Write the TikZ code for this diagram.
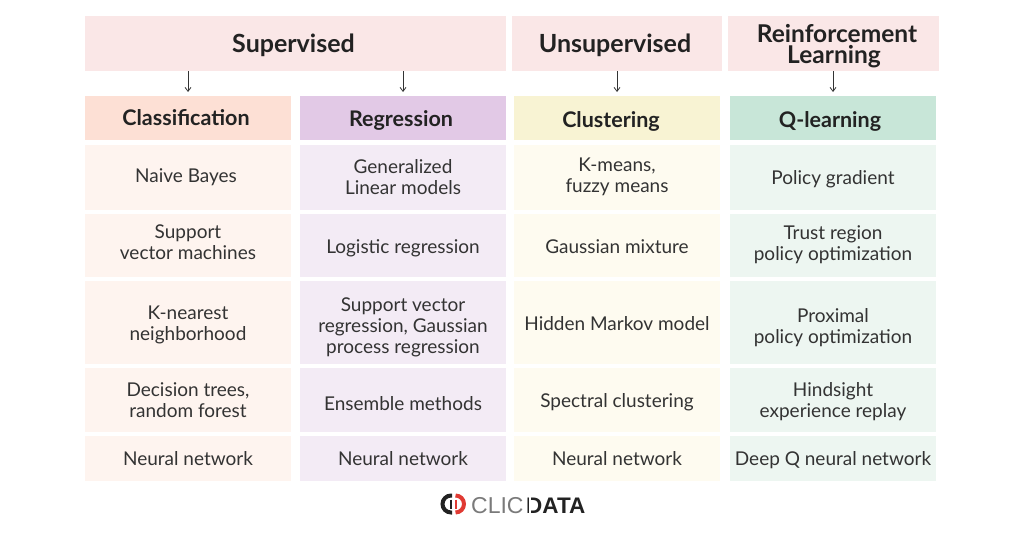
\documentclass[tikz,border=0pt]{standalone}
\usepackage{fontspec}
\setmainfont{Lato}
\newfontfamily\logolight{Liberation Sans}
\usetikzlibrary{arrows.meta}
\definecolor{topc}{HTML}{FAE7E7}
\definecolor{hA}{HTML}{FDE0D5}\definecolor{hB}{HTML}{E2C9E6}\definecolor{hC}{HTML}{F8F3D3}\definecolor{hD}{HTML}{C8E6D8}
\definecolor{cA}{HTML}{FEF4EF}\definecolor{cB}{HTML}{F3EBF5}\definecolor{cC}{HTML}{FEFBF0}\definecolor{cD}{HTML}{EDF6F1}
\definecolor{ink}{HTML}{222222}\definecolor{txt}{HTML}{333333}\definecolor{logored}{HTML}{E03A33}
\tikzset{x=1pt,y=-1pt,
 lab/.style={inner sep=0pt,outer sep=0pt,align=center,yshift=-3pt,text=txt,font=\fontsize{19}{21}\selectfont,execute at begin node=\strut,execute at end node=\strut},
 toplab/.style={lab,text=ink,font=\fontsize{25}{20}\selectfont\bfseries},
 toplabtwo/.style={lab,text=ink,font=\fontsize{24.5}{21}\selectfont\bfseries},
 headlab/.style={lab,text=ink,font=\fontsize{21.5}{22}\selectfont\bfseries},
 panel/.style={inner sep=0pt,outer sep=0pt},
 logotxt/.style={inner sep=0pt,anchor=base west},
 arr/.style={draw=txt,line width=0.8pt,-{Straight Barb[length=4pt,width=6pt]},shorten >=4pt}}
% #1 label style, #2 fill, #3 name, #4-#7 x0 x1 y0 y1, #8 #9 text centre
\newcommand{\mk}[9]{\node[panel,fill=#2,minimum width=#5 pt-#4 pt,minimum height=#7 pt-#6 pt] (#3) at ({(#4+#5)/2},{(#6+#7)/2}) {};
 \def\mkname{#3}\def\mkstyle{#1}\def\mkx{#8}\def\mky{#9}\mkrest}
\newcommand{\mkrest}[1]{\node[\mkstyle] (\mkname t) at (\mkx,\mky) {#1};}
\begin{document}
\begin{tikzpicture}
\useasboundingbox (0,0) rectangle (1024,535);
\mk{toplab}{topc}{sup}{85}{506}{16}{71}{293.5}{43}{Supervised}
\mk{toplab}{topc}{uns}{512}{722}{16}{71}{615}{43}{Unsupervised}
\mk{toplabtwo}{topc}{rei}{728}{939}{16}{71}{837}{44.5}{Reinforcement\\\hspace*{-6pt}Learning}
\mk{headlab}{hA}{cls}{85}{291}{96}{140}{186}{118}{Classification}
\mk{headlab}{hB}{reg}{300}{506}{96}{140}{401}{119}{Regression}
\mk{headlab}{hC}{clu}{514}{720}{96}{140}{611}{120}{Clustering}
\mk{headlab}{hD}{qle}{730}{936}{96}{140}{830}{120}{Q-learning}
\mk{lab}{cA}{a1}{85}{291}{145}{210}{186}{175}{Naive Bayes}
\mk{lab}{cA}{a2}{85}{291}{214}{277}{188}{242.5}{Support\\vector machines}
\mk{lab}{cA}{a3}{85}{291}{281}{364}{188}{323.5}{K-nearest\\neighborhood}
\mk{lab}{cA}{a4}{85}{291}{368}{432}{188}{400}{Decision trees,\\random forest}
\mk{lab}{cA}{a5}{85}{291}{436}{481}{188}{458}{Neural network}
\mk{lab}{cB}{b1}{300}{506}{145}{210}{403}{177.5}{Generalized\\Linear models}
\mk{lab}{cB}{b2}{300}{506}{214}{277}{403}{246}{Logistic regression}
\mk{lab}{cB}{b3}{300}{506}{281}{364}{403}{326}{Support vector\\regression, Gaussian\\process regression}
\mk{lab}{cB}{b4}{300}{506}{368}{432}{403}{403}{Ensemble methods}
\mk{lab}{cB}{b5}{300}{506}{436}{481}{403}{458}{Neural network}
\mk{lab}{cC}{c1}{514}{720}{145}{210}{617}{175}{K-means,\\fuzzy means}
\mk{lab}{cC}{c2}{514}{720}{214}{277}{617}{246}{Gaussian mixture}
\mk{lab}{cC}{c3}{514}{720}{281}{364}{617}{323}{Hidden Markov model}
\mk{lab}{cC}{c4}{514}{720}{368}{432}{617}{400}{Spectral clustering}
\mk{lab}{cC}{c5}{514}{720}{436}{481}{617}{458}{Neural network}
\mk{lab}{cD}{d1}{730}{936}{145}{210}{833}{177}{Policy gradient}
\mk{lab}{cD}{d2}{730}{936}{214}{277}{833}{243.5}{Trust region\\policy optimization}
\mk{lab}{cD}{d3}{730}{936}{281}{364}{833}{326.5}{Proximal\\policy optimization}
\mk{lab}{cD}{d4}{730}{936}{368}{432}{833}{400.5}{Hindsight\\experience replay}
\mk{lab}{cD}{d5}{730}{936}{436}{481}{833}{458}{Deep Q neural network}
\draw[arr] (sup.south -| cls.north) -- (cls.north);
\draw[arr] (sup.south -| reg.north) -- (reg.north);
\draw[arr] (uns.south -| clu.north) -- (clu.north);
\draw[arr] (rei.south -| qle.north) -- (qle.north);
% logo
\draw[line width=4pt,ink] (452,495.5) -- (451,495.5) arc[start angle=90,end angle=270,radius=8.5pt] -- (452,512.5);
\draw[line width=1.4pt,ink] (451,499.5) -- (451,508.5);
\draw[line width=4pt,logored] (455.5,495.5) arc[start angle=90,end angle=-90,radius=8.5pt];
\draw[line width=1.4pt,logored] (456,499.5) -- (456,508.5);
\node[logotxt,text=ink!60,font=\fontsize{23}{23}\selectfont\logolight] (logoa) at (471,513.5) {CLIC};
\node[logotxt,text=ink,font=\fontsize{22.5}{23}\selectfont\logolight\bfseries] (logob) at (526,513.5) {DATA};
\draw[white,line width=1.2pt] (530,497) -- (530,515);
\end{tikzpicture}
\end{document}
